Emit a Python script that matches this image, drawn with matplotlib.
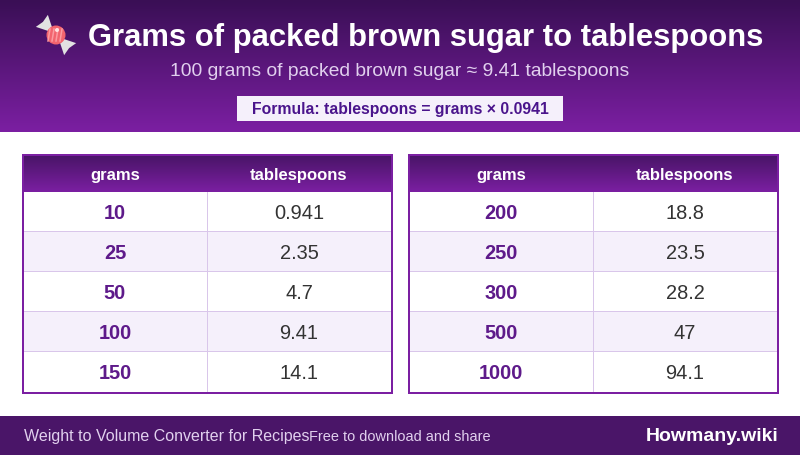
import numpy as np
import matplotlib
matplotlib.use("Agg")
import matplotlib.pyplot as plt
from matplotlib.colors import LinearSegmentedColormap
from matplotlib.patches import Circle, Polygon, Rectangle

TITLE = "Grams of packed brown sugar to tablespoons"
SUBTITLE = "100 grams of packed brown sugar ≈ 9.41 tablespoons"
FORMULA = "Formula: tablespoons = grams × 0.0941"
COLUMNS = ["grams", "tablespoons"]
grams_left = ["10", "25", "50", "100", "150"]
tbsp_left = ["0.941", "2.35", "4.7", "9.41", "14.1"]
grams_right = ["200", "250", "300", "500", "1000"]
tbsp_right = ["18.8", "23.5", "28.2", "47", "94.1"]
FOOT_LEFT = "Weight to Volume Converter for Recipes"
FOOT_MID = "Free to download and share"
BRAND = "Howmany.wiki"

DARK = "#4a148c"
DEEP = "#3a0f55"
PURPLE = "#7b1fa2"
BAR = "#4a1568"
LINE = "#d9c6ea"
ALT = "#f5f0fb"
NUM = "#5e1a8a"
TXT = "#333333"

plt.rcParams["font.family"] = ["Liberation Sans", "DejaVu Sans"]

fig = plt.figure(figsize=(8, 4.56), dpi=100)
ax = fig.add_axes([0, 0, 1, 1])
ax.axis("off")


def px(size):
    return size * 72 / 100


def gradient(x0, x1, y0, y1, c0, c1, z=1):
    cmap = LinearSegmentedColormap.from_list("g", [c0, c1])
    ax.imshow(np.linspace(0, 1, 128).reshape(-1, 1), cmap=cmap, aspect="auto",
              extent=(x0, x1, y1, y0), zorder=z, interpolation="bilinear")


def rect(x, y, w, h, color, z=2):
    ax.add_patch(Rectangle((x, y), w, h, fc=color, ec="none", lw=0, zorder=z,
                           antialiased=False))


def label(x, y, s, size, color, bold=False, ha="center"):
    ax.text(x, y, s, color=color, fontsize=px(size), fontweight="bold" if bold else "normal",
            ha=ha, va="baseline", zorder=6)


def candy(cx, cy):
    # wrapper ends then the round sweet, turned along the diagonal
    a = np.radians(45)
    rot = np.array([[np.cos(a), -np.sin(a)], [np.sin(a), np.cos(a)]])
    for s in (-1, 1):
        pts = np.array([[s * 7, -2], [s * 20, -8.5], [s * 18.5, 0], [s * 20, 8.5], [s * 7, 2]])
        ax.add_patch(Polygon(rot.dot(pts.T).T + [cx, cy], fc="#e2e2e2", ec="none", zorder=3))
    ax.add_patch(Circle((cx, cy), 9.5, fc="#f2646e", ec="none", zorder=4))
    for off in (-5, -1, 3, 7):
        ax.plot([cx + off - 3, cx + off + 3 - 4], [cy + 6, cy - 6], color="#fb9aa0", lw=1.1, zorder=5)
    ax.add_patch(Circle((cx + 1, cy - 5), 2, fc="#ffe0e0", ec="none", zorder=6))


def table(x0, grams, tbsp):
    y0, hdr, row, w, split = 154, 38, 40, 371, 185
    rect(x0, y0, w, hdr + row * len(grams) + 2, PURPLE)
    gradient(x0 + 2, x0 + w - 2, y0 + 2, y0 + hdr, BAR, PURPLE, z=3)
    label(x0 + 93, y0 + 25, COLUMNS[0], 16.6, "white", bold=True)
    label(x0 + 277, y0 + 25, COLUMNS[1], 16.6, "white", bold=True)
    for i, (g, t) in enumerate(zip(grams, tbsp)):
        top = y0 + hdr + i * row
        rect(x0 + 2, top, w - 4, row, ALT if i % 2 else "white", z=3)
        if i < len(grams) - 1:
            rect(x0 + 2, top + row - 1, w - 4, 1, LINE, z=4)
        rect(x0 + split, top, 1, row, LINE, z=4)
        label(x0 + 93, top + 26, g, 20, NUM, bold=True)
        label(x0 + 277, top + 26, t, 20, TXT)


# header band
gradient(0, 800, 0, 132, DEEP, PURPLE)
candy(56, 35)
label(426, 45, TITLE, 31, "white", bold=True)
label(400, 75, SUBTITLE, 19.3, "#e1d0ee")
rect(237, 96, 326, 25, ALT)
label(400.5, 113, FORMULA, 15.7, DARK, bold=True)

table(22, grams_left, tbsp_left)
table(408, grams_right, tbsp_right)

# footer
rect(0, 416, 800, 40, BAR)
label(24, 440, FOOT_LEFT, 16, "#e1d0ee", ha="left")
label(309, 440, FOOT_MID, 14.5, "#e1d0ee", ha="left")
label(778.5, 440, BRAND, 19.5, "white", bold=True, ha="right")

# rasteriser lands a pixel high otherwise
ax.set_xlim(0, 800)
ax.set_ylim(455, -1)
fig.savefig("out.png", dpi=100)
